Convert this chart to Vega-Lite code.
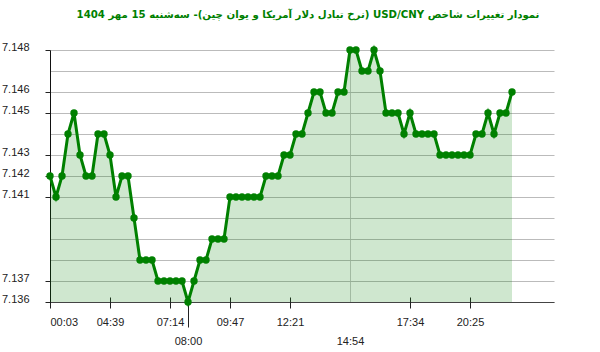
{
  "$schema": "https://vega.github.io/schema/vega-lite/v6.json",
  "width": 504,
  "height": 252,
  "autosize": {"type": "none"},
  "padding": {"left": 50, "top": 50, "right": 46, "bottom": 50},
  "background": "#ffffff",
  "config": {
    "view": {"stroke": null},
    "axis": {"labelFont": "Liberation Sans", "labelFontSize": 11, "labelColor": "#222222", "titleFontSize": 0}
  },
  "title": {
    "text": "‫نمودار تغییرات شاخص USD/CNY (نرخ تبادل دلار آمریکا و یوان چین)- سه‌شنبه  15 مهر 1404‬",
    "color": "#008000",
    "font": "DejaVu Sans",
    "fontSize": 10.2,
    "fontWeight": "bold",
    "anchor": "middle",
    "dx": 6,
    "offset": 21
  },
  "data": {
    "values": [
      {"i": 0, "v": 7.142}, {"i": 1, "v": 7.141}, {"i": 2, "v": 7.142}, {"i": 3, "v": 7.144},
      {"i": 4, "v": 7.145}, {"i": 5, "v": 7.143}, {"i": 6, "v": 7.142}, {"i": 7, "v": 7.142},
      {"i": 8, "v": 7.144}, {"i": 9, "v": 7.144}, {"i": 10, "v": 7.143}, {"i": 11, "v": 7.141},
      {"i": 12, "v": 7.142}, {"i": 13, "v": 7.142}, {"i": 14, "v": 7.140}, {"i": 15, "v": 7.138},
      {"i": 16, "v": 7.138}, {"i": 17, "v": 7.138}, {"i": 18, "v": 7.137}, {"i": 19, "v": 7.137},
      {"i": 20, "v": 7.137}, {"i": 21, "v": 7.137}, {"i": 22, "v": 7.137}, {"i": 23, "v": 7.136},
      {"i": 24, "v": 7.137}, {"i": 25, "v": 7.138}, {"i": 26, "v": 7.138}, {"i": 27, "v": 7.139},
      {"i": 28, "v": 7.139}, {"i": 29, "v": 7.139}, {"i": 30, "v": 7.141}, {"i": 31, "v": 7.141},
      {"i": 32, "v": 7.141}, {"i": 33, "v": 7.141}, {"i": 34, "v": 7.141}, {"i": 35, "v": 7.141},
      {"i": 36, "v": 7.142}, {"i": 37, "v": 7.142}, {"i": 38, "v": 7.142}, {"i": 39, "v": 7.143},
      {"i": 40, "v": 7.143}, {"i": 41, "v": 7.144}, {"i": 42, "v": 7.144}, {"i": 43, "v": 7.145},
      {"i": 44, "v": 7.146}, {"i": 45, "v": 7.146}, {"i": 46, "v": 7.145}, {"i": 47, "v": 7.145},
      {"i": 48, "v": 7.146}, {"i": 49, "v": 7.146}, {"i": 50, "v": 7.148}, {"i": 51, "v": 7.148},
      {"i": 52, "v": 7.147}, {"i": 53, "v": 7.147}, {"i": 54, "v": 7.148}, {"i": 55, "v": 7.147},
      {"i": 56, "v": 7.145}, {"i": 57, "v": 7.145}, {"i": 58, "v": 7.145}, {"i": 59, "v": 7.144},
      {"i": 60, "v": 7.145}, {"i": 61, "v": 7.144}, {"i": 62, "v": 7.144}, {"i": 63, "v": 7.144},
      {"i": 64, "v": 7.144}, {"i": 65, "v": 7.143}, {"i": 66, "v": 7.143}, {"i": 67, "v": 7.143},
      {"i": 68, "v": 7.143}, {"i": 69, "v": 7.143}, {"i": 70, "v": 7.143}, {"i": 71, "v": 7.144},
      {"i": 72, "v": 7.144}, {"i": 73, "v": 7.145}, {"i": 74, "v": 7.144}, {"i": 75, "v": 7.145},
      {"i": 76, "v": 7.145}, {"i": 77, "v": 7.146}
    ]
  },
  "layer": [
    {
      "mark": {"type": "area", "color": "#008000", "opacity": 0.19},
      "encoding": {
        "x": {
          "field": "i", "type": "quantitative",
          "scale": {"domain": [0, 84], "nice": false, "zero": false},
          "axis": {"orient": "bottom", "values": [50], "grid": true, "gridColor": "#c8c8c8", "ticks": false, "labels": false, "domain": true, "domainColor": "#444444", "title": null}
        },
        "y": {
          "field": "v", "type": "quantitative",
          "scale": {"domain": [7.136, 7.148], "nice": false, "zero": false},
          "axis": {"orient": "left", "values": [7.136, 7.137, 7.138, 7.139, 7.14, 7.141, 7.142, 7.143, 7.144, 7.145, 7.146, 7.147, 7.148], "grid": true, "gridColor": "#bbbbbb", "ticks": false, "labels": false, "domain": false, "title": null}
        },
        "y2": {"datum": 7.136}
      }
    },
    {
      "mark": {"type": "line", "color": "#008000", "strokeWidth": 3},
      "encoding": {
        "x": {
          "field": "i", "type": "quantitative",
          "axis": {"orient": "bottom", "values": [0, 10, 20, 30, 40, 60, 70], "offset": -5, "tickSize": 11, "tickColor": "#222222", "domain": false, "grid": false, "labelPadding": 8,
            "labelExpr": "{'0':'00:03','10':'04:39','20':'07:14','30':'09:47','40':'12:21','60':'17:34','70':'20:25'}[''+datum.value]", "title": null}
        },
        "y": {
          "field": "v", "type": "quantitative",
          "axis": {"orient": "left", "values": [7.136, 7.137, 7.141, 7.142, 7.143, 7.145, 7.146, 7.148], "grid": false, "tickSize": 5, "tickColor": "#222222", "domain": true, "domainColor": "#111111", "labelPadding": 16, "labelBaseline": "middle", "labelOffset": -3, "format": ".3f", "title": null}
        }
      }
    },
    {
      "mark": {"type": "circle", "color": "#008000", "size": 55, "opacity": 1},
      "encoding": {
        "x": {
          "field": "i", "type": "quantitative",
          "axis": {"orient": "bottom", "values": [23, 50], "offset": -5, "tickSize": 30, "tickColor": {"condition": {"test": "datum.value == 50", "value": "transparent"}, "value": "#222222"}, "domain": false, "grid": false, "labelPadding": 8,
            "labelExpr": "{'23':'08:00','50':'14:54'}[''+datum.value]", "title": null}
        },
        "y": {"field": "v", "type": "quantitative", "axis": null}
      }
    }
  ],
  "resolve": {"axis": {"x": "independent", "y": "independent"}}
}
